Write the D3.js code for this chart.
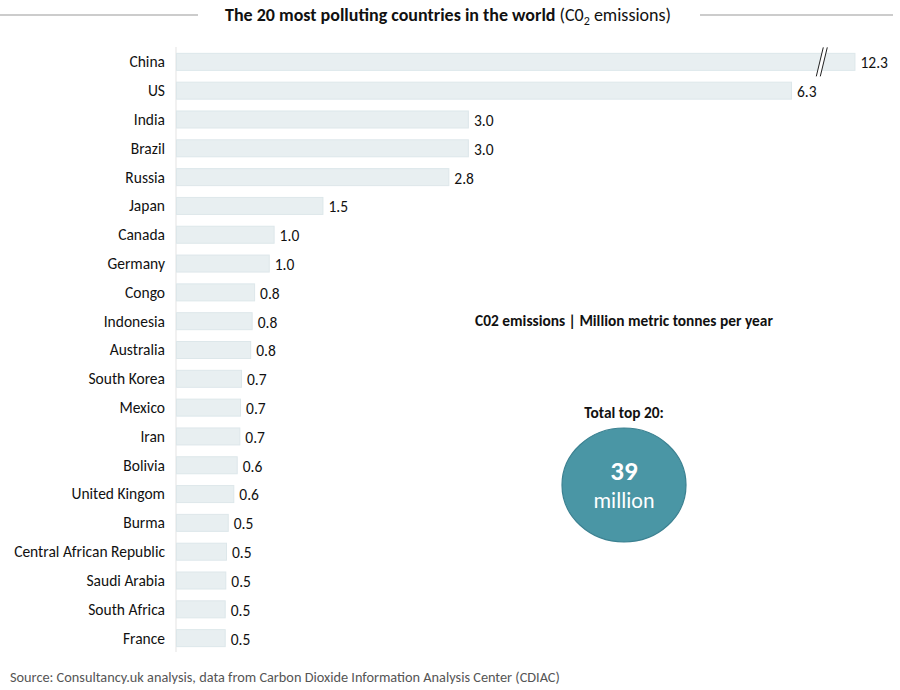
<!DOCTYPE html>
<html>
<head>
<meta charset="utf-8">
<script src="https://cdn.jsdelivr.net/npm/d3@7"></script>
<style>
  html, body { margin: 0; padding: 0; background: #fff; }
  svg { display: block; font-family: Carlito, Lato, "Open Sans", sans-serif; }
</style>
</head>
<body>
<svg id="chart" width="900" height="690"></svg>
<script>
// ---- data ----
const countries = ["China","US","India","Brazil","Russia","Japan","Canada","Germany","Congo","Indonesia","Australia","South Korea","Mexico","Iran","Bolivia","United Kingom","Burma","Central African Republic","Saudi Arabia","South Africa","France"];
const emissions = [12.3,6.3,2.99,2.99,2.79,1.50,1.00,0.95,0.80,0.775,0.76,0.666,0.656,0.649,0.622,0.587,0.53,0.512,0.505,0.499,0.499];
const valueLabels = ["12.3","6.3","3.0","3.0","2.8","1.5","1.0","1.0","0.8","0.8","0.8","0.7","0.7","0.7","0.6","0.6","0.5","0.5","0.5","0.5","0.5"];
const axisCap = 6.95;      // China bar is drawn broken at this length
const breakAt = 6.6;       // position of the "//" break marks
const titleBold = "The 20 most polluting countries in the world";
const unitNote = "C02 emissions | Million metric tonnes per year";
const totalTitle = "Total top 20:";
const totalValue = "39";
const totalUnit = "million";
const sourceText = "Source: Consultancy.uk analysis, data from Carbon Dioxide Information Analysis Center (CDIAC)";

const svg = d3.select("#chart");
const rows = countries.map((c, i) => ({ c, v: emissions[i], label: valueLabels[i] }));

const x = d3.scaleLinear().domain([0, 6.3]).range([176, 791]);
const y = d3.scaleBand().domain(countries).range([47.6, 652.4]).paddingInner(0.41).paddingOuter(0.2);

// title
const title = svg.append("text").attr("x", 448).attr("y", 21).attr("text-anchor", "middle")
  .attr("font-size", 18).attr("fill", "#111");
title.append("tspan").attr("font-weight", "bold").text(titleBold + " ");
title.append("tspan").text("(C0");
title.append("tspan").attr("font-size", 12).attr("dy", 4).text("2");
title.append("tspan").attr("dy", -4).text(" emissions)");
svg.append("line").attr("x1", 0).attr("x2", 198).attr("y1", 15).attr("y2", 15).attr("stroke", "#999").attr("stroke-width", 1);
svg.append("line").attr("x1", 700).attr("x2", 893).attr("y1", 15).attr("y2", 15).attr("stroke", "#999").attr("stroke-width", 1);

// axis line
svg.append("line").attr("x1", x(0)).attr("x2", x(0)).attr("y1", 47).attr("y2", 652)
  .attr("stroke", "#e3e3e3").attr("stroke-width", 1);

// bars
svg.append("g").selectAll("rect").data(rows).join("rect")
  .attr("x", x(0) + 0.5)
  .attr("y", d => y(d.c))
  .attr("width", d => x(Math.min(d.v, axisCap)) - x(0))
  .attr("height", y.bandwidth())
  .attr("fill", "#e8eff1")
  .attr("stroke", "#dde7ea")
  .attr("stroke-width", 1);

// category labels
svg.append("g").selectAll("text").data(rows).join("text")
  .attr("x", 165)
  .attr("y", d => y(d.c) + y.bandwidth() / 2)
  .attr("dy", "0.35em")
  .attr("text-anchor", "end")
  .attr("font-size", 15.5)
  .attr("fill", "#111")
  .text(d => d.c);

// value labels
svg.append("g").selectAll("text").data(rows).join("text")
  .attr("x", d => x(Math.min(d.v, axisCap)) + 6)
  .attr("y", d => y(d.c) + y.bandwidth() / 2 + 1)
  .attr("dy", "0.35em")
  .attr("font-size", 15.5)
  .attr("fill", "#111")
  .text(d => d.label);

// break marks on the capped bar
const capped = rows.filter(d => d.v > axisCap);
const bx = x(breakAt);
capped.forEach(d => {
  const top = y(d.c) - 6, bot = y(d.c) + y.bandwidth() + 6;
  svg.append("polygon")
    .attr("points", `${bx - 4},${bot} ${bx + 3},${top} ${bx + 7},${top} ${bx},${bot}`)
    .attr("fill", "#fff");
  [0, 4].forEach(o => {
    svg.append("line")
      .attr("x1", bx - 4 + o).attr("y1", bot)
      .attr("x2", bx + 3 + o).attr("y2", top)
      .attr("stroke", "#222").attr("stroke-width", 1);
  });
});

// unit note
svg.append("text").attr("x", 624).attr("y", 326).attr("text-anchor", "middle")
  .attr("font-size", 15.4).attr("font-weight", "bold").attr("fill", "#111").text(unitNote);

// total bubble
svg.append("text").attr("x", 624).attr("y", 418).attr("text-anchor", "middle")
  .attr("font-size", 15.4).attr("font-weight", "bold").attr("fill", "#111").text(totalTitle);
svg.append("ellipse").attr("cx", 624).attr("cy", 485).attr("rx", 62).attr("ry", 57)
  .attr("fill", "#4a96a5").attr("stroke", "#3b8191").attr("stroke-width", 1.2);
svg.append("text").attr("x", 624).attr("y", 480).attr("text-anchor", "middle")
  .attr("font-size", 27).attr("font-weight", "bold").attr("fill", "#fff").text(totalValue);
svg.append("text").attr("x", 624).attr("y", 508).attr("text-anchor", "middle")
  .attr("font-size", 22).attr("fill", "#fff").text(totalUnit);

// source
svg.append("text").attr("x", 10).attr("y", 682).attr("font-size", 14.3).attr("fill", "#555").text(sourceText);
</script>
</body>
</html>
